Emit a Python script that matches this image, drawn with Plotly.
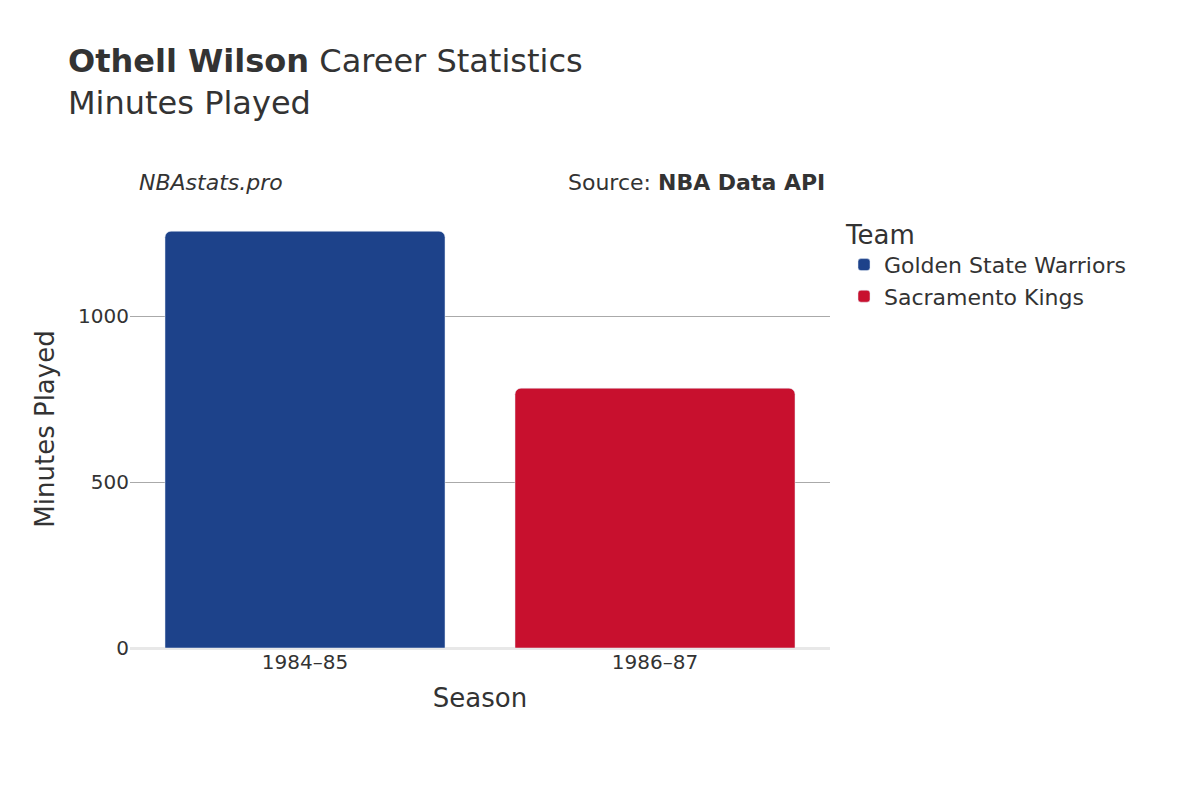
import plotly.graph_objects as go

seasons = ["1984–85", "1986–87"]
teams = ["Golden State Warriors", "Sacramento Kings"]
minutes = [1256, 783]
colors = ["#1D428A", "#C8102E"]

fig = go.Figure()
for s, t, m, c in zip(seasons, teams, minutes, colors):
    fig.add_trace(go.Bar(x=[s], y=[m], name=t, marker=dict(color=c, cornerradius=6)))

fig.update_layout(
    width=1200, height=800,
    font=dict(family="DejaVu Sans", size=20, color="#333333"),
    plot_bgcolor="white", paper_bgcolor="white",
    barmode="relative", bargap=0.2,
    margin=dict(l=122, r=378, t=202, b=160),
    title=dict(text="<b>Othell Wilson</b> Career Statistics<br>Minutes Played",
               x=0.05, xanchor="left", y=0.92, yanchor="top",
               font=dict(size=32, color="#333333")),
    legend=dict(title=dict(text="Team", font=dict(size=26)), x=1.02, y=1.0,
                yanchor="top", font=dict(size=22)),
    xaxis=dict(title=dict(text="Season", font=dict(size=26)), categoryorder="array",
               categoryarray=seasons, showline=False),
    yaxis=dict(title=dict(text="Minutes Played", font=dict(size=26)), range=[0, 1320],
               tickvals=[0, 500, 1000], gridcolor="#aaaaaa", zeroline=True,
               zerolinecolor="#e8e8e8", zerolinewidth=3),
    annotations=[
        dict(text="<i>NBAstats.pro</i>", xref="paper", yref="paper", x=0.01, y=1.03,
             xanchor="left", yanchor="bottom", showarrow=False, font=dict(size=22)),
        dict(text="Source: <b>NBA Data API</b>", xref="paper", yref="paper", x=0.995, y=1.03,
             xanchor="right", yanchor="bottom", showarrow=False, font=dict(size=22)),
    ],
)
fig.write_html("out.html")
